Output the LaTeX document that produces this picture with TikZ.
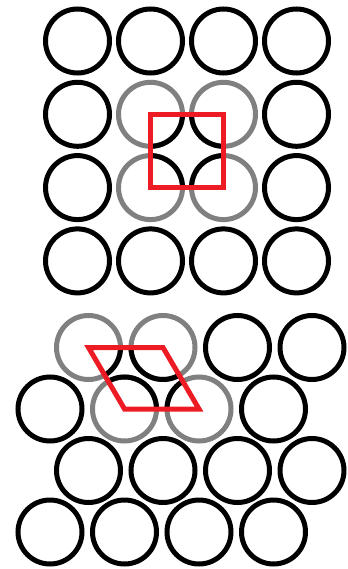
\documentclass[tikz,border=0pt]{standalone}
\usepackage{tikz}
\usetikzlibrary{positioning,calc}
\definecolor{cellred}{RGB}{237,28,36}
\definecolor{fadegray}{RGB}{128,128,128}
\begin{document}
\begin{tikzpicture}[x=0.03cm, y=-0.03cm,
  atom/.style={circle, draw=black, line width=0.15cm, minimum size=1.92cm, inner sep=0pt},
  faded/.style={atom, draw=fadegray},
  cell/.style={draw=cellred, line width=0.15cm}]
  \useasboundingbox (0,0) rectangle (348,569);
  % square packing
  \foreach \r in {1,...,4}
    \foreach \c in {1,...,4} {
      \pgfmathtruncatemacro\inner{(\r>1)*(\r<4)*(\c>1)*(\c<4)}
      \ifnum\inner=1 \def\sty{faded}\else\def\sty{atom}\fi
      \node [\sty] (s\r\c) at ({77.5+73*(\c-1)},{41+73.3*(\r-1)}) {};
    }
  \begin{scope}
    \clip (s22.center) -- (s23.center) -- (s33.center) -- (s32.center) -- cycle;
    \foreach \n in {s22,s23,s32,s33}
      \draw [line width=0.15cm] (\n.center) circle (0.96cm);
  \end{scope}
  \draw [cell] (s22.center) -- (s23.center) -- (s33.center) -- (s32.center) -- cycle;
  % hexagonal packing
  \foreach \r in {1,...,4}
    \foreach \c in {1,...,4} {
      \pgfmathtruncatemacro\inner{(\r==1)*(\c<3)+(\r==2)*(\c>1)*(\c<4)}
      \ifnum\inner=1 \def\sty{faded}\else\def\sty{atom}\fi
      \pgfmathsetmacro\xs{mod(\r,2)==1 ? 88.5 : 50}
      \node [\sty] (h\r\c) at ({\xs+74.5*(\c-1)},{347.5+61.5*(\r-1)}) {};
    }
  \begin{scope}
    \clip (h11.center) -- (h12.center) -- (h23.center) -- (h22.center) -- cycle;
    \foreach \n in {h11,h12,h22,h23}
      \draw [line width=0.15cm] (\n.center) circle (0.96cm);
  \end{scope}
  \draw [cell] (h11.center) -- (h12.center) -- (h23.center) -- (h22.center) -- cycle;
\end{tikzpicture}
\end{document}
